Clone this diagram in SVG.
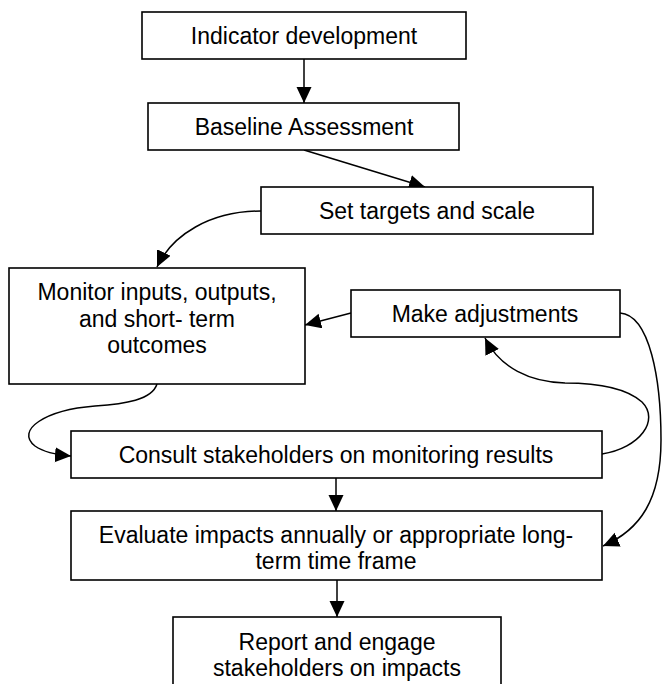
<svg xmlns="http://www.w3.org/2000/svg" width="662" height="684" viewBox="0 0 662 684">
<style>
.box{fill:#fff;stroke:#000;stroke-width:1.6}
.t{font-family:"Liberation Sans",Arial,sans-serif;font-size:23px;fill:#000;text-anchor:middle}
.c{fill:none;stroke:#000;stroke-width:1.5;marker-end:url(#ah)}
</style>
<defs>
<marker id="ah" markerUnits="userSpaceOnUse" markerWidth="17" markerHeight="16" refX="16" refY="7.5" orient="auto" viewBox="0 0 17 16">
<path d="M0,0 L16,7.5 L0,15 z" fill="#000"/>
</marker>
</defs>
<rect width="662" height="684" fill="#fff"/>
<g id="connectors">
<line class="c" x1="304" y1="59" x2="304" y2="103"/>
<line class="c" x1="304" y1="150" x2="425" y2="187"/>
<path class="c" d="M261,211 C210,211 172,235 157,267"/>
<line class="c" x1="351" y1="313" x2="305" y2="325"/>
<path class="c" d="M157,384 C152,400 125,404 95,406 C45,410 15,430 35,446 C45,453 58,455 71,456"/>
<path class="c" d="M602,454 C640,448 660,420 642,402 C624,386 590,383 565,383 C530,382 500,368 485,338"/>
<path class="c" d="M620,313 C650,315 661,380 661,440 C661,500 640,530 603,546"/>
<line class="c" x1="336" y1="478" x2="336" y2="511"/>
<line class="c" x1="337" y1="580" x2="337" y2="617"/>
</g>
<g id="indicator">
<rect class="box" x="142" y="12" width="324" height="47"/>
<text class="t" x="304" y="44">Indicator development</text>
</g>
<g id="baseline">
<rect class="box" x="148" y="103" width="311" height="47"/>
<text class="t" x="304" y="135">Baseline Assessment</text>
</g>
<g id="targets">
<rect class="box" x="261" y="187" width="332" height="47"/>
<text class="t" x="427" y="219">Set targets and scale</text>
</g>
<g id="monitor">
<rect class="box" x="9" y="268" width="296" height="116"/>
<text class="t" x="157" y="300">Monitor inputs, outputs,</text>
<text class="t" x="157" y="327">and short- term</text>
<text class="t" x="157" y="353">outcomes</text>
</g>
<g id="adjust">
<rect class="box" x="351" y="290" width="269" height="47"/>
<text class="t" x="485" y="322">Make adjustments</text>
</g>
<g id="consult">
<rect class="box" x="71" y="431" width="531" height="47"/>
<text class="t" x="336" y="463">Consult stakeholders on monitoring results</text>
</g>
<g id="evaluate">
<rect class="box" x="71" y="511" width="531" height="69"/>
<text class="t" x="336" y="543">Evaluate impacts annually or appropriate long-</text>
<text class="t" x="336" y="569">term time frame</text>
</g>
<g id="report">
<rect class="box" x="173" y="617" width="328" height="80"/>
<text class="t" x="337" y="650">Report and engage</text>
<text class="t" x="337" y="676">stakeholders on impacts</text>
</g>
</svg>
